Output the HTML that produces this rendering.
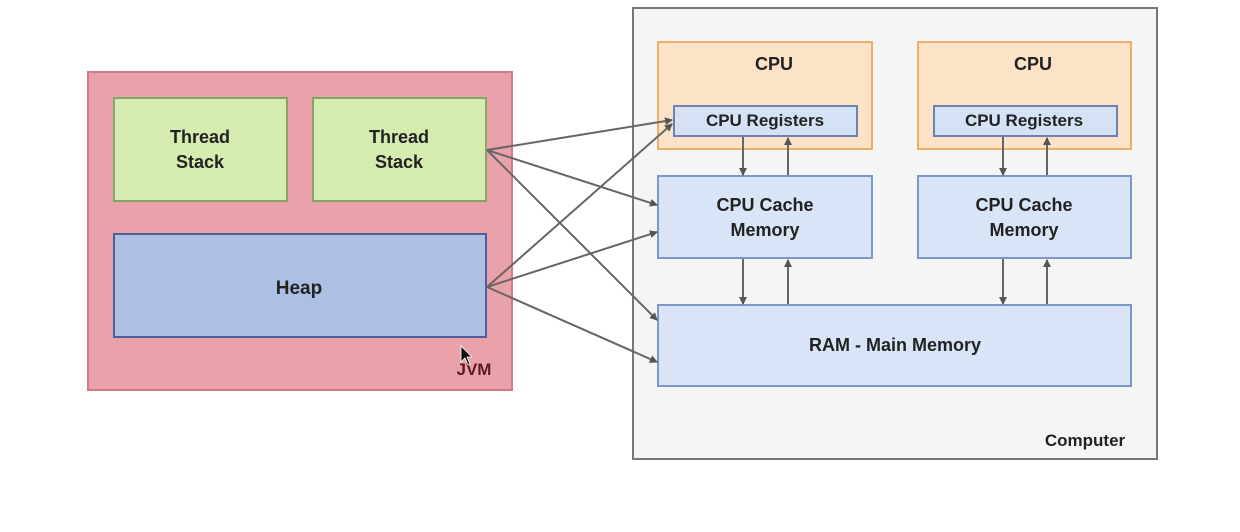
<!DOCTYPE html>
<html><head><style>
body{margin:0;background:#fff;}
svg text{font-family:"Liberation Sans",sans-serif;font-weight:bold;fill:#222;text-anchor:middle;}
</style></head><body>
<svg width="1240" height="527" viewBox="0 0 1240 527" xmlns="http://www.w3.org/2000/svg">
<defs><marker id="a" markerWidth="8" markerHeight="8" refX="7" refY="4" orient="auto" markerUnits="userSpaceOnUse"><path d="M0,0 L8,4 L0,8 z" fill="#555"/></marker></defs>
<rect width="1240" height="527" fill="#fff"/>
<!-- JVM -->
<rect x="88" y="72" width="424" height="318" fill="#e9a2aa" stroke="#d07c86" stroke-width="2"/>
<rect x="114" y="98" width="173" height="103" fill="#d6ebb0" stroke="#84a468" stroke-width="2"/>
<rect x="313" y="98" width="173" height="103" fill="#d6ebb0" stroke="#84a468" stroke-width="2"/>
<text x="200" y="143" font-size="18">Thread</text><text x="200" y="168" font-size="18">Stack</text>
<text x="399" y="143" font-size="18">Thread</text><text x="399" y="168" font-size="18">Stack</text>
<rect x="114" y="234" width="372" height="103" fill="#adc0e4" stroke="#4c5f98" stroke-width="2"/>
<text x="299" y="294" font-size="19">Heap</text>
<text x="474" y="375" font-size="17" style="fill:#5a1a28">JVM</text>
<!-- Computer -->
<rect x="633" y="8" width="524" height="451" fill="#f5f5f5" stroke="#777" stroke-width="2"/>
<text x="1085" y="446" font-size="17">Computer</text>
<rect x="658" y="42" width="214" height="107" fill="#fce3c8" stroke="#eeae6a" stroke-width="2"/>
<rect x="918" y="42" width="213" height="107" fill="#fce3c8" stroke="#eeae6a" stroke-width="2"/>
<text x="774" y="70" font-size="18">CPU</text><text x="1033" y="70" font-size="18">CPU</text>
<rect x="674" y="106" width="183" height="30" fill="#d5e2f6" stroke="#6e80b8" stroke-width="2"/>
<rect x="934" y="106" width="183" height="30" fill="#d5e2f6" stroke="#6e80b8" stroke-width="2"/>
<text x="765" y="126" font-size="17">CPU Registers</text><text x="1024" y="126" font-size="17">CPU Registers</text>
<rect x="658" y="176" width="214" height="82" fill="#d9e5f6" stroke="#7a98c8" stroke-width="2"/>
<rect x="918" y="176" width="213" height="82" fill="#d9e5f6" stroke="#7a98c8" stroke-width="2"/>
<text x="765" y="211" font-size="18">CPU Cache</text><text x="765" y="236" font-size="18">Memory</text>
<text x="1024" y="211" font-size="18">CPU Cache</text><text x="1024" y="236" font-size="18">Memory</text>
<rect x="658" y="305" width="473" height="81" fill="#d9e5f6" stroke="#7a98c8" stroke-width="2"/>
<text x="895" y="351" font-size="18">RAM - Main Memory</text>
<g stroke="#666" stroke-width="2" fill="none" marker-end="url(#a)">
<line x1="743" y1="137" x2="743" y2="175"/><line x1="788" y1="175" x2="788" y2="138"/>
<line x1="1003" y1="137" x2="1003" y2="175"/><line x1="1047" y1="175" x2="1047" y2="138"/>
<line x1="743" y1="259" x2="743" y2="304"/><line x1="788" y1="304" x2="788" y2="260"/>
<line x1="1003" y1="259" x2="1003" y2="304"/><line x1="1047" y1="304" x2="1047" y2="260"/>
<line x1="487" y1="150" x2="672" y2="120"/>
<line x1="487" y1="150" x2="657" y2="205"/>
<line x1="487" y1="150" x2="657" y2="320"/>
<line x1="487" y1="287" x2="672" y2="124"/>
<line x1="487" y1="287" x2="657" y2="232"/>
<line x1="487" y1="287" x2="657" y2="362"/>
</g>
<path d="M461,346 L461,362 L465,358 L468,365 L470,364 L467,357 L472,357 z" fill="#111" stroke="#fff" stroke-width="0.8"/>
</svg>
</body></html>
